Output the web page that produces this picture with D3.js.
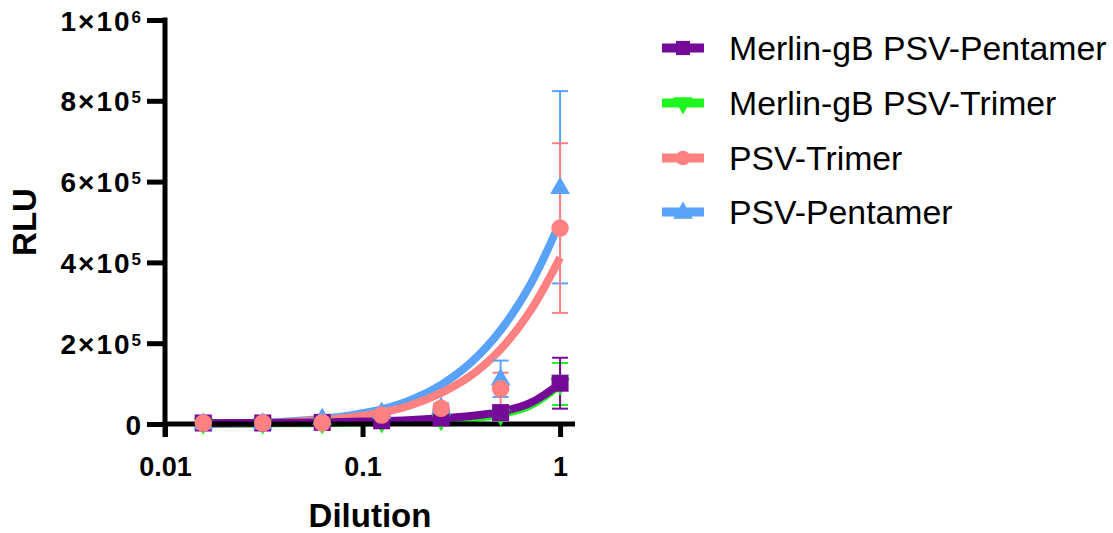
<!DOCTYPE html>
<html>
<head>
<meta charset="utf-8">
<script src="https://cdn.jsdelivr.net/npm/d3@7"></script>
<style>
  html, body { margin: 0; padding: 0; background: #fff; }
  svg { display: block; font-family: Arial, "Liberation Sans", sans-serif; }
</style>
</head>
<body>
<svg id="chart" width="1113" height="533"></svg>
<script>
// ---------- data ----------
const dilutions = [0.015625, 0.03125, 0.0625, 0.125, 0.25, 0.5, 1];

const seriesNames = ["Merlin-gB PSV-Pentamer", "Merlin-gB PSV-Trimer", "PSV-Trimer", "PSV-Pentamer"];
const seriesColors = ["#760a98", "#1ff51f", "#ff8080", "#58a2fa"];
const seriesSymbols = ["square", "triangleDown", "circle", "triangle"];

// mean RLU per dilution
const merlinPentamerMean = [2500, 2500, 4000, 8000, 15000, 28000, 101000];
const merlinTrimerMean   = [1500, 1500, 2500, 5000, 10000, 23000, 99000];
const psvTrimerMean      = [2500, 2500, 3000, 22000, 39000, 87000, 485000];
const psvPentamerMean    = [3000, 3500, 15000, 30000, 42000, 112000, 586000];

// error (SD) per dilution
const merlinPentamerErr = [500, 500, 800, 1500, 3000, 6000, 63000];
const merlinTrimerErr   = [500, 500, 800, 1000, 2000, 4000, 52000];
const psvTrimerErr      = [500, 500, 800, 3000, 8000, 40000, 210000];
const psvPentamerErr    = [500, 500, 1500, 4000, 9000, 45000, 238000];

// fitted curves
const fitX = [0.015625, 0.03125, 0.0625, 0.088, 0.125, 0.177, 0.25, 0.354, 0.5, 0.707, 1];
const merlinPentamerFit = [2000, 2500, 4000, 5500, 7000, 10000, 14000, 20000, 30000, 52000, 100000];
const merlinTrimerFit   = [1000, 1500, 2000, 3000, 4000, 6000, 9000, 14000, 24000, 46000, 97000];
const psvTrimerFit      = [1000, 2000, 10000, 17000, 28000, 47000, 77000, 120000, 185000, 280000, 412000];
const psvPentamerFit    = [1000, 2500, 13000, 22000, 36000, 60000, 97000, 152000, 232000, 345000, 500000];

const yTicks = [0, 200000, 400000, 600000, 800000, 1000000];
const yTickMant = ["0", "2", "4", "6", "8", "1"];
const yTickExp  = ["", "5", "5", "5", "5", "6"];
const xTicks = [0.01, 0.1, 1];
const xTickLabels = ["0.01", "0.1", "1"];

const means = [merlinPentamerMean, merlinTrimerMean, psvTrimerMean, psvPentamerMean];
const errs  = [merlinPentamerErr, merlinTrimerErr, psvTrimerErr, psvPentamerErr];
const fits  = [merlinPentamerFit, merlinTrimerFit, psvTrimerFit, psvPentamerFit];

// ---------- drawing ----------
const svg = d3.select("#chart");
const x = d3.scaleLog().domain([0.01, 1.19]).range([165, 575]);
const y = d3.scaleLinear().domain([0, 1000000]).range([424, 20]);

const symbolType = {
  square: d3.symbolSquare,
  circle: d3.symbolCircle,
  triangle: d3.symbolTriangle,
  triangleDown: d3.symbolTriangle
};
function symbolPath(name, size) {
  return d3.symbol().type(symbolType[name]).size(size)();
}
function symbolTransform(name, px, py) {
  if (name === "triangleDown") return `translate(${px},${py}) rotate(180)`;
  if (name === "triangle") return `translate(${px},${py + 1})`;
  return `translate(${px},${py})`;
}

// fit curves
const line = d3.line().x(d => x(d[0])).y(d => y(d[1])).curve(d3.curveCatmullRom.alpha(0.5));
const curveOrder = [3, 2, 1, 0];
curveOrder.forEach(i => {
  svg.append("path")
    .attr("d", line(fitX.map((v, k) => [v, fits[i][k]])))
    .attr("fill", "none")
    .attr("stroke", seriesColors[i])
    .attr("stroke-width", 8);
});

// axes
const yAxis = d3.axisLeft(y).tickValues(yTicks).tickSize(18).tickFormat(() => "");
const gy = svg.append("g").attr("transform", "translate(165,0)").call(yAxis);
gy.select(".domain").attr("d", `M0,${y(1000000) - 2.5}V${y(0) + 13}`).attr("stroke-width", 5).attr("stroke", "#000");
gy.selectAll(".tick line").attr("stroke-width", 5).attr("stroke", "#000");
gy.selectAll(".tick").each(function(d, i) {
  const t = d3.select(this).append("text")
    .attr("x", -22).attr("dy", "0.36em")
    .attr("text-anchor", "end")
    .attr("fill", "#000")
    .style("font-size", "28px").style("font-weight", "bold")
    .style("letter-spacing", "2px");
  if (yTickExp[i] === "") {
    t.text(yTickMant[i]);
  } else {
    t.append("tspan").text(yTickMant[i] + "\u00d710");
    t.append("tspan").attr("dy", "-8px").style("font-size", "17px").text(yTickExp[i]);
  }
});

const xAxis = d3.axisBottom(x).tickValues(xTicks).tickSize(13).tickFormat((d, i) => xTickLabels[i]);
const gx = svg.append("g").attr("transform", `translate(0,${y(0)})`).call(xAxis);
gx.select(".domain").attr("d", `M${x(0.01)},0H${x(1.19)}`).attr("stroke-width", 5).attr("stroke", "#000");
gx.selectAll(".tick line").attr("stroke-width", 5).attr("stroke", "#000");
gx.selectAll(".tick text")
  .attr("y", 33).attr("dy", "0.71em")
  .attr("fill", "#000")
  .style("font-size", "27px").style("font-weight", "bold");
gx.selectAll("text").attr("font-family", null);
gy.selectAll("text").attr("font-family", null);

// axis titles
svg.append("text").attr("x", 370).attr("y", 527)
  .attr("text-anchor", "middle").style("font-size", "33px").style("font-weight", "bold")
  .text("Dilution");
svg.append("text").attr("transform", "translate(36,222) rotate(-90)")
  .attr("text-anchor", "middle").style("font-size", "33px").style("font-weight", "bold")
  .text("RLU");

// error bars
const barOrder = [1, 0, 3, 2];
barOrder.forEach(i => {
  const g = svg.append("g").attr("stroke", seriesColors[i]).attr("stroke-width", 2).attr("fill", "none");
  dilutions.forEach((dv, k) => {
    const px = x(dv), hi = y(means[i][k] + errs[i][k]), lo = y(Math.max(0, means[i][k] - errs[i][k]));
    if (Math.abs(lo - hi) < 4) return;
    g.append("line").attr("x1", px).attr("x2", px).attr("y1", hi).attr("y2", lo);
    g.append("line").attr("x1", px - 8).attr("x2", px + 8).attr("y1", hi).attr("y2", hi);
    g.append("line").attr("x1", px - 8).attr("x2", px + 8).attr("y1", lo).attr("y2", lo);
  });
});

// markers
const markerSize = { square: 290, circle: 240, triangle: 170, triangleDown: 170 };
barOrder.forEach(i => {
  const sym = seriesSymbols[i];
  svg.append("g").selectAll("path").data(dilutions).join("path")
    .attr("d", symbolPath(sym, markerSize[sym]))
    .attr("transform", (dv, k) => symbolTransform(sym, x(dv), y(means[i][k])))
    .attr("fill", seriesColors[i]);
});

// legend
const legendY = [48, 103, 158, 212];
seriesNames.forEach((name, i) => {
  const g = svg.append("g").attr("transform", `translate(0,${legendY[i]})`);
  g.append("line").attr("x1", 662).attr("x2", 704).attr("y1", 0).attr("y2", 0)
    .attr("stroke", seriesColors[i]).attr("stroke-width", 9);
  const sym = seriesSymbols[i];
  g.append("path").attr("d", symbolPath(sym, sym === "square" ? 200 : 170))
    .attr("transform", symbolTransform(sym, 683, 0))
    .attr("fill", seriesColors[i]);
  g.append("text").attr("x", 729).attr("y", 12)
    .style("font-size", "33.8px").attr("fill", "#000")
    .text(name);
});
</script>
</body>
</html>
